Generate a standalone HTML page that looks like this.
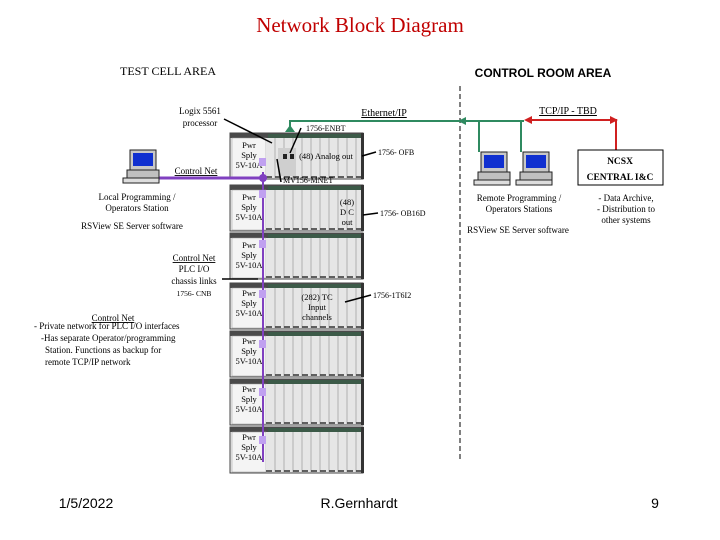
<!DOCTYPE html>
<html><head><meta charset="utf-8"><style>
html,body{margin:0;padding:0;background:#fff;}
svg{display:block;font-family:"Liberation Serif",serif;}
</style></head><body>
<svg width="720" height="540" viewBox="0 0 720 540" xmlns="http://www.w3.org/2000/svg">
<defs>
<g id="ch">
 <rect x="0" y="0" width="133" height="46" fill="#ececec" stroke="#444" stroke-width="1"/>
 <rect x="0" y="0" width="133" height="5" fill="#4a4a4a"/>
 <rect x="38" y="1" width="95" height="4" fill="#3c5a48"/>
 <rect x="2" y="5" width="34" height="40" fill="#f4f4f4" stroke="#999" stroke-width="0.5"/>
 <rect x="36" y="5" width="95" height="40" fill="#e6e6e6"/>
 <g stroke="#999" stroke-width="0.7">
  <line x1="45" y1="5" x2="45" y2="45"/><line x1="54" y1="5" x2="54" y2="45"/>
  <line x1="63" y1="5" x2="63" y2="45"/><line x1="72" y1="5" x2="72" y2="45"/>
  <line x1="81" y1="5" x2="81" y2="45"/><line x1="90" y1="5" x2="90" y2="45"/>
  <line x1="99" y1="5" x2="99" y2="45"/><line x1="108" y1="5" x2="108" y2="45"/>
  <line x1="117" y1="5" x2="117" y2="45"/><line x1="126" y1="5" x2="126" y2="45"/>
 </g>
 <rect x="131" y="0" width="3" height="46" fill="#333"/>
 <line x1="36" y1="44" x2="131" y2="44" stroke="#333" stroke-width="1.5" stroke-dasharray="6,3"/>
</g>
<g id="pc">
 <rect x="7" y="0" width="26" height="20" fill="#c8c8c8" stroke="#222" stroke-width="1"/>
 <rect x="10" y="3" width="20" height="13" fill="#1030d0"/>
 <rect x="4" y="20" width="32" height="8" fill="#c0c0c0" stroke="#222" stroke-width="1"/>
 <rect x="0" y="28" width="36" height="5" fill="#ddd" stroke="#222" stroke-width="1"/>
</g>
</defs>

<text x="360" y="32" font-size="21" fill="#c00000" text-anchor="middle">Network Block Diagram</text>
<text x="168" y="75" font-size="12" text-anchor="middle">TEST CELL AREA</text>
<text x="543" y="77" font-size="12" font-weight="bold" font-family="Liberation Sans,sans-serif" text-anchor="middle">CONTROL ROOM AREA</text>

<line x1="460" y1="86" x2="460" y2="462" stroke="#000" stroke-width="1" stroke-dasharray="5,3"/>

<use href="#ch" x="230" y="133"/>
<use href="#ch" x="230" y="185"/>
<use href="#ch" x="230" y="233"/>
<use href="#ch" x="230" y="283"/>
<use href="#ch" x="230" y="331"/>
<use href="#ch" x="230" y="379"/>
<use href="#ch" x="230" y="427"/>
<rect x="278" y="148" width="18" height="28" fill="#cfcfcf"/>
<rect x="283" y="154" width="4" height="5" fill="#222"/>
<rect x="290" y="154" width="4" height="5" fill="#222"/>

<g font-size="8.5" text-anchor="middle">
<text x="249" y="148">Pwr</text><text x="249" y="158">Sply</text><text x="249" y="168">5V-10A</text>
<text x="249" y="200">Pwr</text><text x="249" y="210">Sply</text><text x="249" y="220">5V-10A</text>
<text x="249" y="248">Pwr</text><text x="249" y="258">Sply</text><text x="249" y="268">5V-10A</text>
<text x="249" y="296">Pwr</text><text x="249" y="306">Sply</text><text x="249" y="316">5V-10A</text>
<text x="249" y="344">Pwr</text><text x="249" y="354">Sply</text><text x="249" y="364">5V-10A</text>
<text x="249" y="392">Pwr</text><text x="249" y="402">Sply</text><text x="249" y="412">5V-10A</text>
<text x="249" y="440">Pwr</text><text x="249" y="450">Sply</text><text x="249" y="460">5V-10A</text>
<text x="326" y="159">(48) Analog out</text>
<text x="347" y="205">(48)</text><text x="347" y="215">D C</text><text x="347" y="225">out</text>
<text x="317" y="300">(282) TC</text><text x="317" y="310">Input</text><text x="317" y="320">channels</text>
</g>

<line x1="155" y1="178" x2="263" y2="178" stroke="#8040c0" stroke-width="3"/>
<line x1="263" y1="172" x2="263" y2="462" stroke="#8040c0" stroke-width="2"/>
<circle cx="263" cy="178" r="4" fill="#8040c0"/>
<g fill="#c0a0f0">
<rect x="259" y="158" width="7" height="8"/><rect x="259" y="190" width="7" height="8"/>
<rect x="259" y="240" width="7" height="8"/><rect x="259" y="290" width="7" height="8"/>
<rect x="259" y="340" width="7" height="8"/><rect x="259" y="388" width="7" height="8"/>
<rect x="259" y="436" width="7" height="8"/>
</g>

<polyline points="290,132 290,121 524,121" fill="none" stroke="#2f8a60" stroke-width="2"/>
<polygon points="285,132 295,132 290,125" fill="#2f8a60"/>
<polygon points="458,121 466,117 466,125" fill="#2f8a60"/>
<line x1="479" y1="121" x2="479" y2="152" stroke="#2f8a60" stroke-width="2"/>
<line x1="521" y1="121" x2="521" y2="152" stroke="#2f8a60" stroke-width="2"/>
<text x="384" y="116" font-size="10" text-decoration="underline" text-anchor="middle">Ethernet/IP</text>

<polyline points="527,120 616,120 616,150" fill="none" stroke="#d02020" stroke-width="2"/>
<polygon points="524,120 532,116 532,124" fill="#d02020"/>
<polygon points="618,120 610,116 610,124" fill="#d02020"/>
<text x="568" y="114" font-size="10" text-decoration="underline" text-anchor="middle">TCP/IP  - TBD</text>

<rect x="578" y="150" width="85" height="35" fill="#fff" stroke="#000" stroke-width="1"/>
<text x="620" y="164" font-size="9.5" font-weight="bold" text-anchor="middle">NCSX</text>
<text x="620" y="180" font-size="9.5" font-weight="bold" text-anchor="middle">CENTRAL I&amp;C</text>
<g font-size="9" text-anchor="middle">
<text x="626" y="201">- Data Archive,</text><text x="626" y="212">- Distribution to</text><text x="626" y="223">other systems</text>
<text x="519" y="201">Remote Programming /</text><text x="519" y="212">Operators  Stations</text>
<text x="518" y="233">RSView SE Server software</text>
</g>
<use href="#pc" x="474" y="152"/>
<use href="#pc" x="516" y="152"/>
<use href="#pc" x="123" y="150"/>

<g font-size="9" text-anchor="middle">
<text x="200" y="114">Logix 5561</text><text x="200" y="126">processor</text>
<text x="196" y="174" text-decoration="underline">Control Net</text>
<text x="137" y="200">Local Programming /</text><text x="137" y="211">Operators  Station</text>
<text x="132" y="229">RSView SE Server software</text>
<text x="194" y="261" text-decoration="underline">Control Net</text>
<text x="194" y="272">PLC I/O</text><text x="194" y="284">chassis links</text>
<text x="194" y="296" font-size="7.5">1756- CNB</text>
<text x="113" y="321" text-decoration="underline">Control Net</text>
</g>
<g font-size="9">
<text x="34" y="329">- Private network for PLC I/O interfaces</text>
<text x="41" y="341">-Has separate Operator/programming</text>
<text x="45" y="353">Station. Functions as backup for</text>
<text x="45" y="365">remote TCP/IP network</text>
</g>
<g font-size="8">
<text x="306" y="131">1756-ENBT</text>
<text x="283" y="183">MV156-MNET</text>
<text x="378" y="155">1756- OFB</text>
<text x="380" y="216">1756- OB16D</text>
<text x="373" y="298">1756-1T6I2</text>
</g>
<g stroke="#000" stroke-width="1.5" fill="none">
<line x1="224" y1="119" x2="272" y2="143"/>
<line x1="301" y1="128" x2="290" y2="153"/>
<line x1="281" y1="182" x2="277" y2="159"/>
<line x1="376" y1="152" x2="362" y2="156"/>
<line x1="378" y1="213" x2="363" y2="215"/>
<line x1="371" y1="295" x2="345" y2="302"/>
<line x1="222" y1="279" x2="258" y2="279"/>
</g>

<g font-size="14" font-family="Liberation Sans,sans-serif">
<text x="86" y="508" text-anchor="middle">1/5/2022</text>
<text x="359" y="508" text-anchor="middle">R.Gernhardt</text>
<text x="655" y="508" text-anchor="middle">9</text>
</g>
</svg>
</body></html>
